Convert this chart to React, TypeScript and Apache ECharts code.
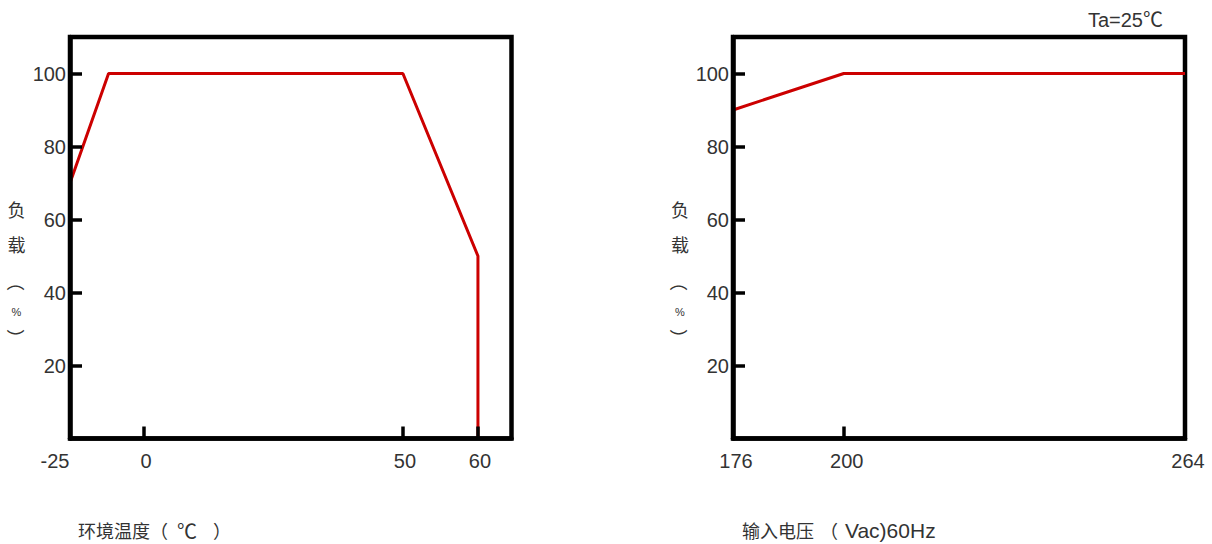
import React, { useEffect, useRef } from "react";
import * as echarts from "echarts";

// ---- data ----
const tempTicks = [-25, 0, 50, 60];
const tempTickPos = [0, 16.8, 75.4, 92.4]; // axis scale breakpoints (0..100)
const tempX = [-25, -12, 50, 60, 60];
const tempLoad = [70, 100, 100, 50, 0];

const voltTicks = [176, 200, 264];
const voltTickPos = [0, 24.5, 100];
const voltX = [176, 200, 264];
const voltLoad = [90, 100, 100];

const loadTicks = [20, 40, 60, 80, 100];

const FONT_LATIN = "'Liberation Sans', Arial, 'Noto Sans CJK SC', sans-serif";
const FONT_CJK = "'Noto Sans CJK SC', 'Liberation Sans', sans-serif";
const TEXT = "#333";
const RED = "#cc0000";

function warp(v: number, ticks: number[], pos: number[]) {
  for (let i = 0; i < ticks.length - 1; i++) {
    if (v <= ticks[i + 1] || i === ticks.length - 2) {
      const t = (v - ticks[i]) / (ticks[i + 1] - ticks[i]);
      return pos[i] + t * (pos[i + 1] - pos[i]);
    }
  }
  return pos[0];
}

function labelFor(value: number, ticks: number[], pos: number[]) {
  let best = 0;
  for (let i = 0; i < pos.length; i++) {
    if (Math.abs(pos[i] - value) < Math.abs(pos[best] - value)) best = i;
  }
  return String(ticks[best]);
}

function yAxis(gridIndex: number) {
  return {
    gridIndex,
    type: "value",
    min: 0,
    max: 110,
    z: 5,
    axisLine: { show: true, lineStyle: { color: "#000", width: 4.5 } },
    axisTick: {
      show: true,
      inside: true,
      length: 12,
      customValues: loadTicks,
      lineStyle: { color: "#000", width: 3.5 },
    },
    axisLabel: {
      customValues: loadTicks,
      margin: 4,
      color: TEXT,
      fontSize: 20,
      fontFamily: FONT_LATIN,
    },
    splitLine: { show: false },
  };
}

function yName(cx: number) {
  const base = { fill: TEXT, fontFamily: FONT_CJK, align: "center", verticalAlign: "middle" };
  return [
    { type: "text", x: cx, y: 209, style: { ...base, text: "负", fontSize: 18 } },
    { type: "text", x: cx, y: 244, style: { ...base, text: "载", fontSize: 18 } },
    { type: "text", x: cx, y: 282, rotation: -Math.PI / 2, style: { ...base, text: "（", fontSize: 18 } },
    { type: "text", x: cx, y: 312, style: { ...base, text: "%", fontSize: 11, fontFamily: FONT_LATIN } },
    { type: "text", x: cx, y: 338, rotation: -Math.PI / 2, style: { ...base, text: "）", fontSize: 18 } },
  ];
}

export default function App() {
  const ref = useRef<HTMLDivElement>(null);
  useEffect(() => {
    if (!ref.current) return;
    const chart = echarts.init(ref.current, null, { renderer: "svg" });
    const option: any = {
      animation: false,
      grid: [
        { left: 70, top: 37, width: 441.5, height: 401.5, show: true, borderColor: "#000", borderWidth: 4.5, backgroundColor: "transparent" },
        { left: 733, top: 37, width: 452, height: 401.5, show: true, borderColor: "#000", borderWidth: 4.5, backgroundColor: "transparent" },
      ],
      xAxis: [
        {
          gridIndex: 0,
          type: "value",
          min: 0,
          max: 100,
          z: 5,
          axisLine: { show: true, lineStyle: { color: "#000", width: 4.5 } },
          axisTick: {
            show: true,
            inside: true,
            length: 12,
            customValues: tempTickPos.slice(1),
            lineStyle: { color: "#000", width: 3.5 },
          },
          axisLabel: {
            customValues: tempTickPos,
            margin: 12,
            color: TEXT,
            fontSize: 20,
            fontFamily: FONT_LATIN,
            formatter: (v: number) => {
              const s = labelFor(v, tempTicks, tempTickPos);
              return s === String(tempTicks[0]) ? "{a|" + s + "}" : "{b|" + s + "}";
            },
            rich: {
              a: { padding: [0, 30, 0, 0], color: TEXT, fontSize: 20, fontFamily: FONT_LATIN },
              b: { padding: [0, 0, 0, 4], color: TEXT, fontSize: 20, fontFamily: FONT_LATIN },
            },
          },
          splitLine: { show: false },
        },
        {
          gridIndex: 1,
          type: "value",
          min: 0,
          max: 100,
          z: 5,
          axisLine: { show: true, lineStyle: { color: "#000", width: 4.5 } },
          axisTick: {
            show: true,
            inside: true,
            length: 12,
            customValues: [voltTickPos[1]],
            lineStyle: { color: "#000", width: 3.5 },
          },
          axisLabel: {
            customValues: voltTickPos,
            margin: 12,
            color: TEXT,
            fontSize: 20,
            fontFamily: FONT_LATIN,
            formatter: (v: number) => "{b|" + labelFor(v, voltTicks, voltTickPos) + "}",
            rich: {
              b: { padding: [0, 0, 0, 6], color: TEXT, fontSize: 20, fontFamily: FONT_LATIN },
            },
          },
          splitLine: { show: false },
        },
      ],
      yAxis: [yAxis(0), yAxis(1)],
      series: [
        {
          type: "line",
          xAxisIndex: 0,
          yAxisIndex: 0,
          z: 2,
          showSymbol: false,
          symbol: "none",
          lineStyle: { color: RED, width: 3 },
          data: tempX.map((t, i) => [warp(t, tempTicks, tempTickPos), tempLoad[i]]),
        },
        {
          type: "line",
          xAxisIndex: 1,
          yAxisIndex: 1,
          z: 2,
          showSymbol: false,
          symbol: "none",
          lineStyle: { color: RED, width: 3 },
          data: voltX.map((v, i) => [warp(v, voltTicks, voltTickPos), voltLoad[i]]),
        },
      ],
      graphic: [
        ...yName(16.5),
        ...yName(680),
        {
          type: "text",
          x: 78,
          y: 530,
          style: {
            text: "{c|环境温度（}{u|℃}{c|）}",
            fill: TEXT,
            align: "left",
            verticalAlign: "middle",
            rich: {
              c: { fill: TEXT, fontSize: 18, fontFamily: FONT_CJK },
              u: { fill: TEXT, fontSize: 20, fontFamily: FONT_CJK, padding: [0, 16, 0, 9] },
            },
          },
        },
        {
          type: "text",
          x: 742,
          y: 530,
          style: {
            text: "{c|输入电压}{p|（}{l|Vac)60Hz}",
            fill: TEXT,
            align: "left",
            verticalAlign: "middle",
            rich: {
              c: { fill: TEXT, fontSize: 18, fontFamily: FONT_CJK },
              p: { fill: TEXT, fontSize: 18, fontFamily: FONT_CJK, padding: [0, 0, 0, 6] },
              l: { fill: TEXT, fontSize: 21, fontFamily: FONT_LATIN, padding: [0, 0, 0, 7] },
            },
          },
        },
        {
          type: "text",
          x: 1163,
          y: 20,
          style: { text: "Ta=25℃", fill: TEXT, fontSize: 20, fontFamily: FONT_LATIN, align: "right", verticalAlign: "middle" },
        },
      ],
    };
    chart.setOption(option);
    return () => chart.dispose();
  }, []);
  return <div ref={ref} style={{ position: "absolute", left: 0, top: 0, width: 1212, height: 544 }} />;
}
